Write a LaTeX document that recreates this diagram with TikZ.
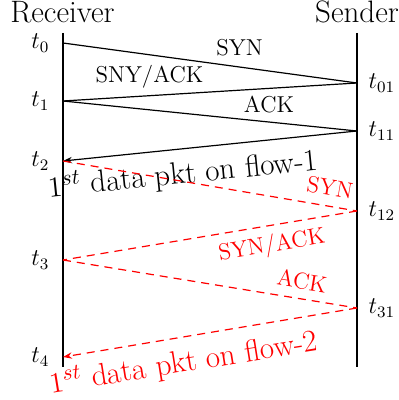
\documentclass[tikz,border=0pt]{standalone}
\usetikzlibrary{arrows.meta}
\begin{document}
\begin{tikzpicture}[x=0.5pt,y=-0.5pt, line width=0.6pt,
  lifeline/.style={black},
  msg/.style={black},
  redmsg/.style={red, dash pattern=on 4pt off 3pt},
  tipend/.style={-{Stealth[length=4.5pt,width=3.2pt]}},
  rtime/.style={font=\large, inner sep=0pt, anchor=east, xshift=-6.5pt},
  stime/.style={font=\large, inner sep=0pt, anchor=west, xshift=5.5pt},
  mlab/.style={font=\fontsize{11.5}{13}\selectfont, inner sep=0pt},
  bigtxt/.style={font=\fontsize{15.5}{18}\selectfont, anchor=base, inner sep=0pt},
]
\useasboundingbox (0,0) rectangle (399,400);

% party names
\node[bigtxt] (recv) at (62.5,23) {Receiver};
\node[bigtxt] (send) at (357,23) {Sender};

% life lines
\coordinate (rtop) at (63,33);
\coordinate (rbot) at (63,367);
\coordinate (stop) at (357,33);
\coordinate (sbot) at (357,367);
\draw[lifeline] (rtop) -- (rbot);
\draw[lifeline] (stop) -- (sbot);

% time instants
\coordinate (t0)  at (63,43);
\coordinate (t01) at (357,83);
\coordinate (t1)  at (63,101);
\coordinate (t11) at (357,131);
\coordinate (t2)  at (63,161);
\coordinate (t12) at (357,211);
\coordinate (t3)  at (63,260);
\coordinate (t31) at (357,308);
\coordinate (t4)  at (63,357);

\node[rtime] (lt0) at (t0) {$t_0$};
\node[rtime] (lt1) at (t1) {$t_1$};
\node[rtime] (lt2) at (t2) {$t_2$};
\node[rtime] (lt3) at (t3) {$t_3$};
\node[rtime] (lt4) at (t4) {$t_4$};
\node[stime] (lt01) at (t01) {$t_{01}$};
\node[stime] (lt11) at (t11) {$t_{11}$};
\node[stime] (lt12) at (t12) {$t_{12}$};
\node[stime] (lt31) at (t31) {$t_{31}$};

% first handshake
\draw[msg] (t0) -- (t01);
\draw[msg] (t01) -- (t1);
\draw[msg] (t1) -- (t11);
\draw[msg, tipend] (t11) -- (t2);
\node[mlab] (syn1) at (239.5,47.5) {SYN};
\node[mlab] (synack1) at (149.5,76.5) {SNY/ACK};
\node[mlab] (ack1) at (269,104.5) {ACK};
\node[bigtxt, rotate=5.8] (data1) at (184,183.5) {$1^{st}$ data pkt on flow-1};

% second handshake
\draw[redmsg] (t2) -- (t12);
\draw[redmsg] (t12) -- (t3);
\draw[redmsg] (t3) -- (t31);
\draw[redmsg, tipend] (t31) -- (t4);
\node[mlab, red, rotate=-9.6] (syn2) at (330,188) {SYN};
\node[mlab, red, rotate=9.5] (synack2) at (272,246) {SYN/ACK};
\node[mlab, red, rotate=-9.3] (ack2) at (302,281) {ACK};
\node[bigtxt, red, rotate=9.1] (data2) at (185,372) {$1^{st}$ data pkt on flow-2};
\end{tikzpicture}
\end{document}
